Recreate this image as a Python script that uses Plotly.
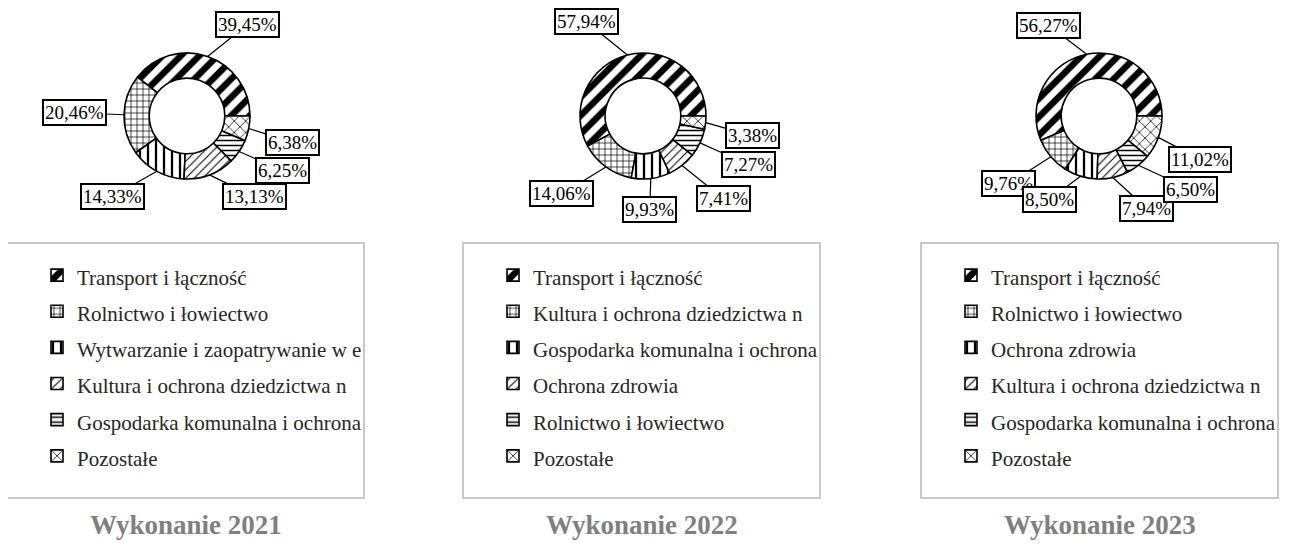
import numpy as np
import plotly.graph_objects as go

W, H = 1290, 548
PAGE_MARGIN = 8  # the page body margin shifts the plot by 8 px

# --- Data ---
titles = ["Wykonanie 2021", "Wykonanie 2022", "Wykonanie 2023"]

labels_2021 = [
    "Transport i łączność",
    "Rolnictwo i łowiectwo",
    "Wytwarzanie i zaopatrywanie w energię elektryczną, gaz i wodę",
    "Kultura i ochrona dziedzictwa narodowego",
    "Gospodarka komunalna i ochrona środowiska",
    "Pozostałe",
]
values_2021 = [39.45, 20.46, 14.33, 13.13, 6.25, 6.38]

labels_2022 = [
    "Transport i łączność",
    "Kultura i ochrona dziedzictwa narodowego",
    "Gospodarka komunalna i ochrona środowiska",
    "Ochrona zdrowia",
    "Rolnictwo i łowiectwo",
    "Pozostałe",
]
values_2022 = [57.94, 14.06, 9.93, 7.41, 7.27, 3.38]

labels_2023 = [
    "Transport i łączność",
    "Rolnictwo i łowiectwo",
    "Ochrona zdrowia",
    "Kultura i ochrona dziedzictwa narodowego",
    "Gospodarka komunalna i ochrona środowiska",
    "Pozostałe",
]
values_2023 = [56.27, 9.76, 8.50, 7.94, 6.50, 11.02]

# --- Layout of each panel (screen pixels) ---
centers_x = [187, 643, 1099]
center_y = 116
radius = 63
box_left = [7, 463, 921]
box_width = 357
box_top, box_bottom = 243, 498

# label box offsets from the slice edge (pixels, y down)
label_offsets = [
    [(40, -32), (-50, -2), (-44, 25), (45, 22), (43, 19), (44, 14)],
    [(-41, -33), (-44, 27), (-1, 31), (41, 33), (49, 22), (47, 13)],
    [(-38, -29), (-42, 27), (-31, 23), (34, 31), (52, 24), (42, 22)],
]

# Pattern styles by slice position (like Excel's default pattern order)
shapes_pat = ["/", "+", "|", "/", "-", "x"]
sizes_pat = [13, 6, 8, 6, 5, 8]
solid_pat = [0.5, 0.22, 0.28, 0.18, 0.3, 0.18]

SERIF = "Liberation Serif, Times New Roman, serif"


def px(x):  # screen x -> paper
    return (x - PAGE_MARGIN) / W


def py(y):  # screen y -> paper
    return 1 - (y - PAGE_MARGIN) / H


def fit(label, n=31):
    return label[:n].rstrip()


fig = go.Figure()
annotations = []
shapes = []

panels = [
    (labels_2021, values_2021),
    (labels_2022, values_2022),
    (labels_2023, values_2023),
]

for i, (labels, values) in enumerate(panels):
    cx = centers_x[i]
    legend_name = "legend" if i == 0 else f"legend{i + 1}"
    total = sum(values)

    # a per-panel style tag keeps each panel's legend entries separate
    style = "font-size:21px" + (f";z-index:{i}" if i else "")
    legend_labels = [f'<span style="{style}">{fit(l)}</span>' for l in labels]

    fig.add_trace(
        go.Pie(
            labels=legend_labels,
            values=values,
            hole=0.6,
            sort=False,
            direction="counterclockwise",
            # first slice starts at 3 o'clock and runs counterclockwise
            rotation=90 - values[0] / total * 360,
            textinfo="none",
            hoverinfo="label+percent",
            domain=dict(
                x=[px(cx - radius), px(cx + radius)],
                y=[py(center_y + radius), py(center_y - radius)],
            ),
            marker=dict(
                colors=["white"] * len(values),
                line=dict(color="black", width=1.6),
                pattern=dict(
                    shape=shapes_pat,
                    size=sizes_pat,
                    solidity=solid_pat,
                    fgcolor="black",
                    bgcolor="white",
                    fillmode="replace",
                ),
            ),
            legend=legend_name,
            showlegend=True,
        )
    )

    # callout labels, anchored at the outer edge at each slice's mid angle
    cum = np.cumsum([0] + values)
    for j, v in enumerate(values):
        mid = (cum[j] + cum[j + 1]) / 2 / total * 360  # counterclockwise from 3 o'clock
        ex = cx + radius * np.cos(np.radians(mid))
        ey = center_y - radius * np.sin(np.radians(mid))
        dx, dy = label_offsets[i][j]
        annotations.append(
            dict(
                x=px(ex),
                y=py(ey),
                xref="paper",
                yref="paper",
                ax=dx,
                ay=dy,
                text=f"{v:.2f}%".replace(".", ","),
                showarrow=True,
                arrowhead=0,
                arrowwidth=1.2,
                arrowcolor="black",
                font=dict(family=SERIF, size=19, color="black"),
                bgcolor="white",
                bordercolor="black",
                borderwidth=2,
                borderpad=1,
            )
        )

    # legend frame
    shapes.append(
        dict(
            type="rect",
            xref="paper",
            yref="paper",
            x0=px(box_left[i]),
            x1=px(box_left[i] + box_width),
            y0=py(box_bottom),
            y1=py(box_top),
            line=dict(color="#c8c8c8", width=2),
            fillcolor="rgba(0,0,0,0)",
        )
    )

    # panel title
    annotations.append(
        dict(
            x=px(box_left[i] + box_width / 2),
            y=py(525),
            xref="paper",
            yref="paper",
            xanchor="center",
            yanchor="middle",
            text=f"<b>{titles[i]}</b>",
            showarrow=False,
            font=dict(family=SERIF, size=27, color="#7f7f7f"),
        )
    )

legend_common = dict(
    xanchor="left",
    yanchor="top",
    y=py(252),
    bgcolor="rgba(0,0,0,0)",
    borderwidth=0,
    font=dict(family=SERIF, size=25.5, color="#262626"),
    traceorder="normal",
)

fig.update_layout(
    width=W,
    height=H,
    margin=dict(l=0, r=0, t=0, b=0),
    paper_bgcolor="white",
    plot_bgcolor="white",
    showlegend=True,
    legend=dict(x=px(box_left[0] + 30), **legend_common),
    legend2=dict(x=px(box_left[1] + 30), **legend_common),
    legend3=dict(x=px(box_left[2] + 30), **legend_common),
    annotations=annotations,
    shapes=shapes,
)

fig.write_html("out.html")
